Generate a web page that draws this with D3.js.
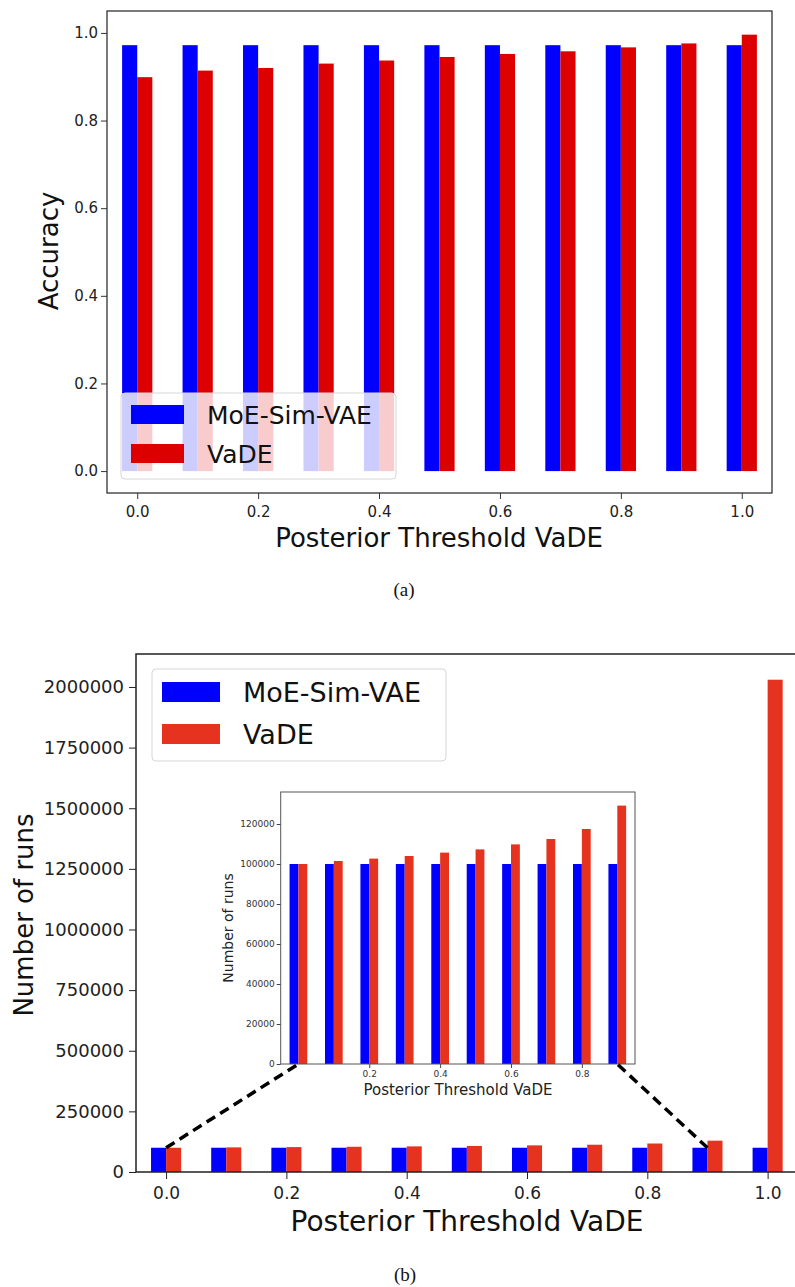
<!DOCTYPE html>
<html>
<head>
<meta charset="utf-8">
<script src="https://cdn.jsdelivr.net/npm/d3@7"></script>
<style>
body { margin: 0; background: #fff; }
svg { display: block; font-family: "DejaVu Sans", sans-serif; }
</style>
</head>
<body>
<svg id="fig" width="795" height="1287"></svg>
<script>
// values
var thresholds = [0.0, 0.1, 0.2, 0.3, 0.4, 0.5, 0.6, 0.7, 0.8, 0.9, 1.0];
var seriesNames = ["MoE-Sim-VAE", "VaDE"];
var accMoE = [0.972, 0.972, 0.972, 0.972, 0.972, 0.972, 0.972, 0.972, 0.972, 0.972, 0.972];
var accVaDE = [0.899, 0.914, 0.920, 0.930, 0.937, 0.945, 0.952, 0.958, 0.967, 0.976, 0.996];
var runsMoE = [100000, 100000, 100000, 100000, 100000, 100000, 100000, 100000, 100000, 100000, 100000];
var runsVaDE = [100000, 101500, 102700, 104000, 105700, 107300, 109800, 112500, 117500, 129200, 2030000];
var xTicks = [0.0, 0.2, 0.4, 0.6, 0.8, 1.0];
var accTicks = [0.0, 0.2, 0.4, 0.6, 0.8, 1.0];
var runsTicks = [0, 250000, 500000, 750000, 1000000, 1250000, 1500000, 1750000, 2000000];
var insetXTicks = [0.2, 0.4, 0.6, 0.8];
var insetYTicks = [0, 20000, 40000, 60000, 80000, 100000, 120000];

var barW = 0.025;
var svg = d3.select("#fig");

function bars(g, x, y, vals, col, off) {
	g.append("g").selectAll("rect")
		.data(vals)
		.enter()
		.append("rect")
		.attr("x", function(d, i) { return x(thresholds[i] + off); })
		.attr("width", function(d, i) { return x(thresholds[i] + off + barW) - x(thresholds[i] + off); })
		.attr("y", function(d) { return y(d); })
		.attr("height", function(d) { return y(0) - y(d); })
		.style("fill", col);
}

function axes(g, x, y, o) {
	var ax = g.append("g")
		.attr("transform", "translate(0," + o.bottom + ")")
		.call(d3.axisBottom(x).tickValues(o.xt).tickSize(o.tick).tickPadding(o.xpad).tickFormat(d3.format(".1f")));
	var ay = g.append("g")
		.attr("transform", "translate(" + o.left + ",0)")
		.call(d3.axisLeft(y).tickValues(o.yt).tickSize(o.tick).tickPadding(o.ypad).tickFormat(o.yfmt));
	ax.select(".domain").remove();
	ay.select(".domain").remove();
	ax.selectAll("text").style("font-size", o.xfs + "px").style("fill", o.tcol).style("font-family", "DejaVu Sans");
	ay.selectAll("text").style("font-size", o.yfs + "px").style("fill", o.tcol).style("font-family", "DejaVu Sans");
	ax.selectAll("line").style("stroke", o.fcol);
	ay.selectAll("line").style("stroke", o.fcol);
}

function legend(g, lx, ly, lw, lh, px, py, pw, ph, gap, tx, fs, cols) {
	g.append("rect")
		.attr("x", lx).attr("y", ly).attr("width", lw).attr("height", lh)
		.attr("rx", 4)
		.style("fill", "#fff").style("fill-opacity", 0.8)
		.style("stroke", "#d6d6d6").style("stroke-width", 1);
	seriesNames.forEach(function(n, i) {
		g.append("rect")
			.attr("x", px).attr("y", py + i * gap).attr("width", pw).attr("height", ph)
			.style("fill", cols[i]);
		g.append("text")
			.attr("x", tx).attr("y", py + ph + i * gap)
			.style("font-size", fs + "px").style("fill", "#111")
			.text(n);
	});
}

// ---------- (a) accuracy ----------
var ga = svg.append("g");
var xa = d3.scaleLinear().domain([-0.05, 1.05]).range([107, 772]);
var ya = d3.scaleLinear().domain([-0.05, 1.05]).range([493, 11]);
var colA = ["#0000ff", "#dc0000"];

bars(ga, xa, ya, accMoE, colA[0], -barW);
bars(ga, xa, ya, accVaDE, colA[1], 0);
axes(ga, xa, ya, {bottom: 493, left: 107, xt: xTicks, yt: accTicks, tick: 6, xpad: 7, ypad: 3,
	yfmt: d3.format(".1f"), xfs: 15, yfs: 15, tcol: "#222", fcol: "#333"});
ga.append("rect")
	.attr("x", 107).attr("y", 11).attr("width", 772 - 107).attr("height", 493 - 11)
	.style("fill", "none").style("stroke", "#333").style("stroke-width", 1.3);
legend(ga, 121, 393, 275, 86, 131, 405, 53, 19, 39, 207, 25, colA);

ga.append("text")
	.attr("transform", "translate(58,251) rotate(-90)")
	.attr("text-anchor", "middle")
	.style("font-size", "26px").style("fill", "#111")
	.text("Accuracy");
ga.append("text")
	.attr("x", 439).attr("y", 547)
	.attr("text-anchor", "middle")
	.style("font-size", "26px").style("fill", "#111")
	.text("Posterior Threshold VaDE");
ga.append("text")
	.attr("x", 404).attr("y", 596)
	.attr("text-anchor", "middle")
	.style("font-family", "Liberation Serif, serif").style("font-size", "19px").style("fill", "#111")
	.text("(a)");

// ---------- (b) number of runs ----------
var gb = svg.append("g");
var xb = d3.scaleLinear().domain([-0.05, 1.05]).range([136, 797.7]);
var yb = d3.scaleLinear().domain([0, 2136000]).range([1172, 654]);
var colB = ["#0000ff", "#e6331f"];

bars(gb, xb, yb, runsMoE, colB[0], -barW);
bars(gb, xb, yb, runsVaDE, colB[1], 0);
axes(gb, xb, yb, {bottom: 1172, left: 136, xt: xTicks, yt: runsTicks, tick: 7, xpad: 8, ypad: 5,
	yfmt: d3.format("d"), xfs: 17, yfs: 18, tcol: "#222", fcol: "#222"});
gb.append("path")
	.attr("d", "M136,1172V654H797.7V1172Z")
	.style("fill", "none").style("stroke", "#222").style("stroke-width", 1.5);

// inset zoom on thresholds 0.0 - 0.9
var xi = d3.scaleLinear().domain([-0.05, 0.95]).range([280.7, 635]);
var yi = d3.scaleLinear().domain([0, 136000]).range([1064, 792]);
var gi = gb.append("g");
gi.append("rect")
	.attr("x", 280.7).attr("y", 792).attr("width", 635 - 280.7).attr("height", 1064 - 792)
	.style("fill", "#fff");
bars(gi, xi, yi, runsMoE.slice(0, 10), colB[0], -barW);
bars(gi, xi, yi, runsVaDE.slice(0, 10), colB[1], 0);
axes(gi, xi, yi, {bottom: 1064, left: 280.7, xt: insetXTicks, yt: insetYTicks, tick: 4, xpad: 3, ypad: 2,
	yfmt: d3.format("d"), xfs: 9, yfs: 9, tcol: "#333", fcol: "#444"});
gi.append("rect")
	.attr("x", 280.7).attr("y", 792).attr("width", 635 - 280.7).attr("height", 1064 - 792)
	.style("fill", "none").style("stroke", "#555").style("stroke-width", 1);
gi.append("text")
	.attr("transform", "translate(233,928) rotate(-90)")
	.attr("text-anchor", "middle")
	.style("font-size", "14px").style("fill", "#222")
	.text("Number of runs");
gi.append("text")
	.attr("x", 458).attr("y", 1095)
	.attr("text-anchor", "middle")
	.style("font-size", "15px").style("fill", "#222")
	.text("Posterior Threshold VaDE");

// dashed connectors from main bars to inset corners
[0.0, 0.9].forEach(function(t) {
	gb.append("line")
		.attr("x1", xb(t)).attr("y1", yb(runsMoE[0]))
		.attr("x2", xi(t)).attr("y2", yi(0))
		.style("stroke", "#000").style("stroke-width", 3.5)
		.style("stroke-dasharray", "10,6");
});

legend(gb, 152, 669, 294, 92, 162, 682, 58, 20, 42, 243, 27, colB);

gb.append("text")
	.attr("transform", "translate(33,915) rotate(-90)")
	.attr("text-anchor", "middle")
	.style("font-size", "26px").style("fill", "#111")
	.text("Number of runs");
gb.append("text")
	.attr("x", 467).attr("y", 1231)
	.attr("text-anchor", "middle")
	.style("font-size", "28px").style("fill", "#111")
	.text("Posterior Threshold VaDE");
gb.append("text")
	.attr("x", 405).attr("y", 1281)
	.attr("text-anchor", "middle")
	.style("font-family", "Liberation Serif, serif").style("font-size", "19px").style("fill", "#111")
	.text("(b)");
</script>
</body>
</html>
